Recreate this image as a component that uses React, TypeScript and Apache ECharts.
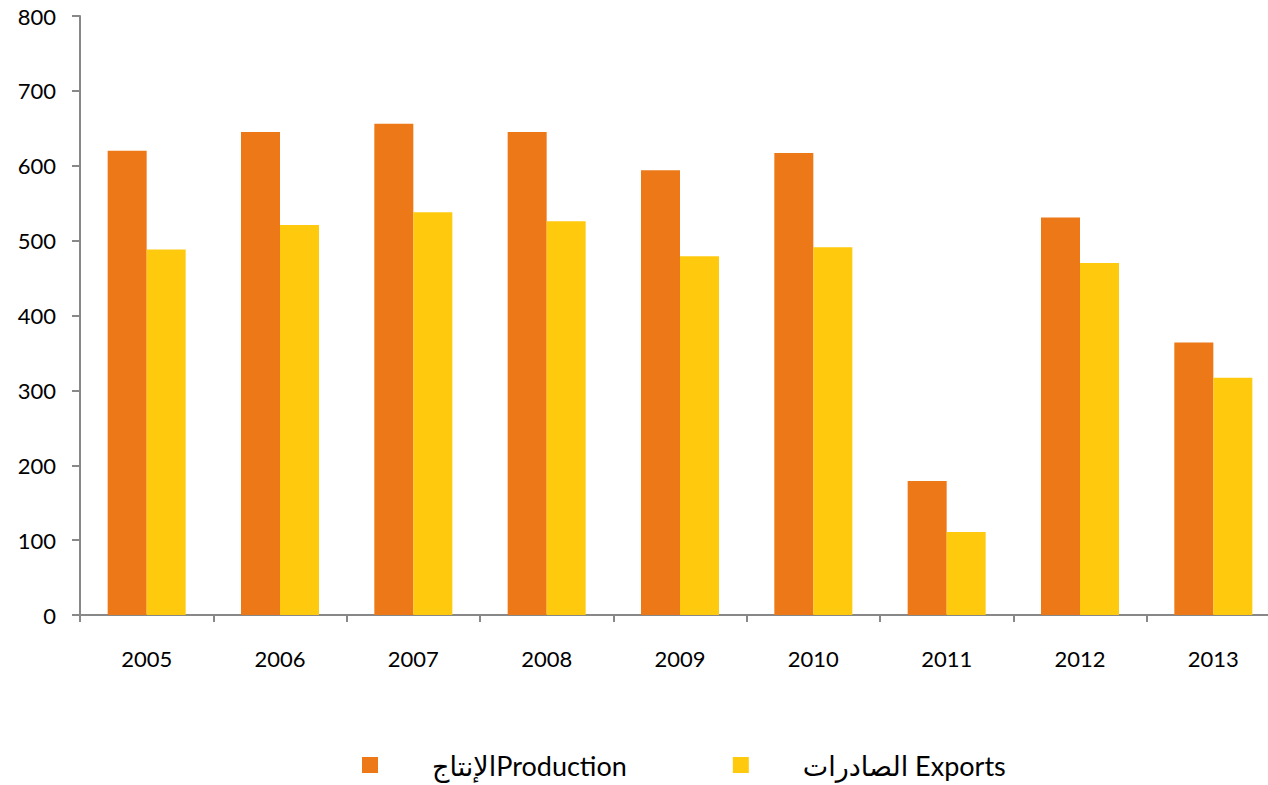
import React, { useEffect, useRef } from "react";
import * as echarts from "echarts";

const years = ["2005", "2006", "2007", "2008", "2009", "2010", "2011", "2012", "2013"];
const production = [620, 645, 656, 645, 594, 617, 179, 531, 364];
const exportsData = [488, 521, 538, 526, 479, 491, 111, 470, 317];
const productionName = "الإنتاجProduction";
const exportsName = "الصادرات Exports";

export default function App() {
  const ref = useRef<HTMLDivElement>(null);
  useEffect(() => {
    if (!ref.current) return;
    const chart = echarts.init(ref.current, undefined, { renderer: "svg" });
    const font = "Lato, 'DejaVu Sans', sans-serif";
    chart.setOption({
      animation: false,
      backgroundColor: "#ffffff",
      grid: { left: 80, right: 0, top: 16, bottom: 170 },
      legend: {
        left: 362,
        top: 748,
        padding: 0,
        itemWidth: 16,
        itemHeight: 16,
        itemGap: 106,
        icon: "rect",
        textStyle: {
          fontFamily: font,
          fontSize: 27,
          lineHeight: 34,
          color: "#000",
          padding: [0, 0, 0, 49],
        },
        data: [productionName, exportsName],
      },
      xAxis: {
        type: "category",
        data: years,
        axisLine: { lineStyle: { color: "#888888", width: 2 } },
        axisTick: { show: true, length: 7, lineStyle: { color: "#888888", width: 2 } },
        axisLabel: { color: "#000", fontFamily: font, fontSize: 22, margin: 32 },
      },
      yAxis: {
        type: "value",
        min: 0,
        max: 800,
        interval: 100,
        splitLine: { show: false },
        axisLine: { show: true, lineStyle: { color: "#888888", width: 2 } },
        axisTick: { show: true, length: 8, lineStyle: { color: "#888888", width: 2 } },
        axisLabel: { color: "#000", fontFamily: font, fontSize: 22, margin: 24 },
      },
      series: [
        {
          name: productionName,
          type: "bar",
          data: production,
          barWidth: 39,
          barGap: "0%",
          itemStyle: { color: "#ED7817" },
        },
        {
          name: exportsName,
          type: "bar",
          data: exportsData,
          barWidth: 39,
          barGap: "0%",
          itemStyle: { color: "#FFCA0E" },
        },
      ],
    });
    return () => chart.dispose();
  }, []);
  return (
    <div
      ref={ref}
      style={{ position: "fixed", left: 0, top: 0, width: 1280, height: 785 }}
    />
  );
}
